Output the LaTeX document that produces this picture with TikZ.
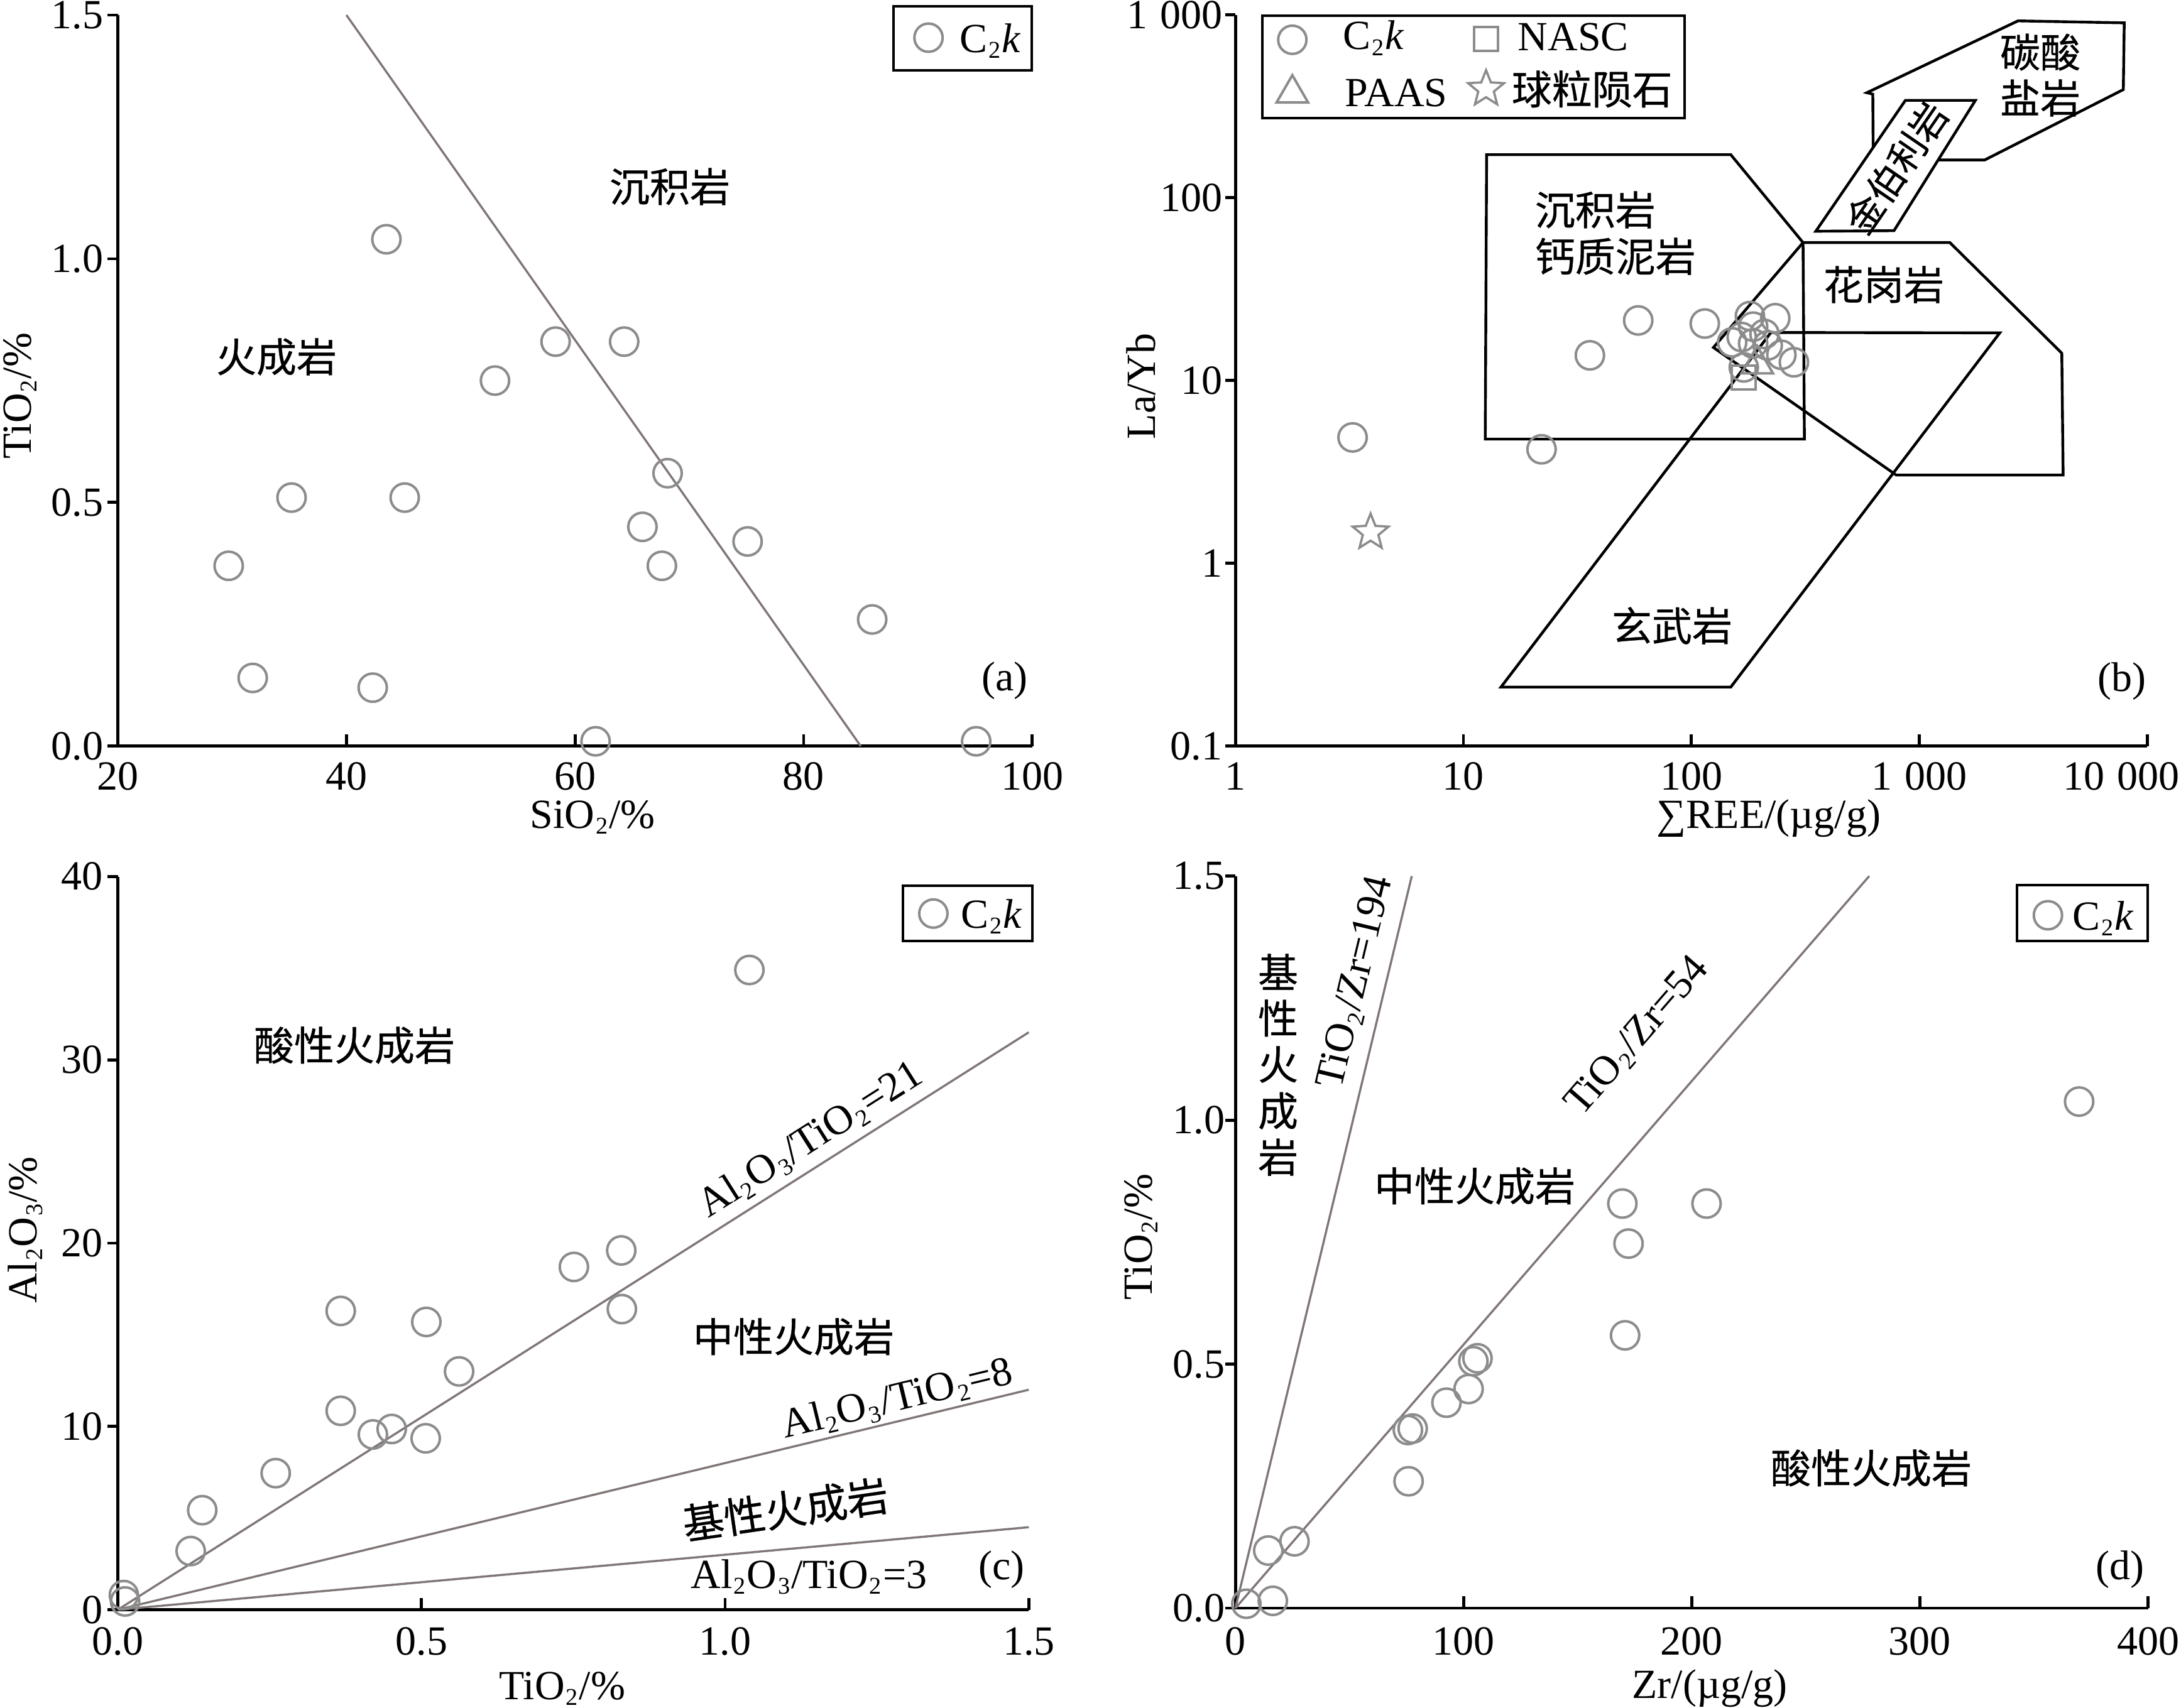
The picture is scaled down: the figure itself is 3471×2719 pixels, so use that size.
\documentclass[tikz,border=0pt]{standalone}
\usepackage{fontspec}
\usepackage{graphicx}
\setmainfont{Liberation Serif}
\newfontfamily\cjk[FakeBold=0.5]{Noto Sans CJK SC}
\usetikzlibrary{shapes.geometric}
\definecolor{markg}{RGB}{140,140,140}
\definecolor{lineg}{RGB}{128,118,118}
\def\thou{\kern0.3em}
\newcommand\sbs[1]{\kern0.03em\raisebox{-0.3ex}{\scalebox{0.58}{#1}}\kern0.03em}
\begin{document}
\begin{tikzpicture}[x=0.25pt,y=-0.25pt,
  every node/.style={inner sep=0pt,font=\fontsize{16.5}{19}\selectfont},
  axisline/.style={line width=1.2pt,black},
  ratioline/.style={line width=0.85pt,draw=lineg},
  fieldline/.style={line width=1.1pt,black,line join=miter},
  mkc/.style={circle,draw=markg,line width=1pt,minimum size=11.25pt},
  mks/.style={rectangle,draw=markg,line width=1pt,minimum size=9.5pt},
  mkt/.style={regular polygon,regular polygon sides=3,draw=markg,line width=1pt,minimum size=14.5pt},
  mkstar/.style={star,star points=5,star point ratio=2.3,draw=markg,line width=0.9pt,minimum size=15pt},
  legbox/.style={draw=black,line width=1pt},
  zh/.style={font=\cjk\fontsize{16}{18}\selectfont},
  tickx/.style={anchor=north},
  ticky/.style={anchor=east}]
\useasboundingbox (0,0) rectangle (3471,2719);

% ================= panel (a)
\draw[axisline] (187.5,23.9) -- (187.5,1187.8) -- (1642.5,1187.8);
\foreach \v [count=\i] in {20,40,60,80,100}{
  \pgfmathsetmacro\px{187.5+(\v-20)*18.19}
  \draw[axisline] (\px,1187.8) -- (\px,1169);
  \node[tickx] (ax\i) at (\px,1213) {\v};
}
\foreach \v/\t [count=\i] in {0/0.0,0.5/0.5,1/1.0,1.5/1.5}{
  \pgfmathsetmacro\py{1187.8-\v*775.9}
  \draw[axisline] (187.5,\py) -- (171,\py);
  \node[ticky] (ay\i) at (165,\py) {\t};
}
\begin{scope}[shift={(-176.3,1187.8)},xscale=18.19,yscale=-775.9]
  \draw[ratioline] (40,1.5) -- (85,0);
  \foreach \x/\y [count=\i] in {43.5/1.04,58.3/0.83,64.3/0.83,53.0/0.75,68.1/0.56,35.2/0.51,45.1/0.51,65.9/0.45,75.1/0.42,29.7/0.37,67.6/0.37,86.0/0.26,31.8/0.14,42.3/0.12,61.8/0.01,95.1/0.01}
    \node[mkc] (pa\i) at (\x,\y) {};
\end{scope}
\node[zh] (a-sed) at (1066,297) {沉积岩};
\node[zh] (a-ign) at (440,568) {火成岩};
\node (a-lab) at (1599,1084) {(a)};
\node (a-xt) at (943,1301) {SiO\sbs{2}/\%};
\node[rotate=90] (a-yt) at (32,630) {TiO\sbs{2}/\%};
\draw[legbox] (1421.7,10) rectangle (1642.3,111.7);
\node[mkc] (a-lm) at (1477.7,60) {};
\node[anchor=base west] (a-lt) at (1526.7,83.3) {C\sbs{2}\textit{k}};

% ================= panel (b)
\draw[axisline] (1966.1,23.9) -- (1966.1,1187.8) -- (3417.4,1187.8);
\foreach \k/\t [count=\i] in {0/1,1/10,2/100,3/{1\thou000}}{
  \pgfmathsetmacro\px{1966.1+\k*362.8}
  \draw[axisline] (\px,1187.8) -- (\px,1169);
  \node[tickx] (bx\i) at (\px,1213) {\t};
}
\draw[axisline] (3417.4,1187.8) -- (3417.4,1169);
\node[anchor=north east] (bx5) at (3469,1213) {10\thou000};
\foreach \k/\t [count=\i] in {-1/0.1,0/1,1/10,2/100,3/{1\thou000}}{
  \pgfmathsetmacro\py{896.8-\k*290.97}
  \draw[axisline] (1966.1,\py) -- (1949.6,\py);
  \node[ticky] (by\i) at (1946,\py) {\t};
}
\begin{scope}[shift={(1966.1,896.8)},xscale=362.8,yscale=-290.97]
  % sedimentary / calcareous mudstone
  \draw[fieldline] (1.102,2.236) -- (2.173,2.236) -- (2.490,1.755) -- (2.496,0.680) -- (1.096,0.680) -- cycle;
  % granite
  \draw[fieldline] (2.490,1.755) -- (3.134,1.755) -- (3.625,1.150) -- (3.631,0.483) -- (2.899,0.483) -- (2.097,1.181) -- cycle;
  % basalt
  \draw[fieldline] (2.349,1.263) -- (3.353,1.261) -- (2.173,-0.677) -- (1.165,-0.677) -- cycle;
  % carbonate
  \draw[fieldline] (2.798,2.207) -- (2.796,2.567) -- (2.770,2.575) -- (3.433,2.968) -- (3.899,2.957) -- (3.895,2.592) -- (3.287,2.207) -- cycle;
  % kimberlite
  \draw[fieldline,fill=white] (2.546,1.817) -- (2.939,2.533) -- (3.246,2.533) -- (2.889,1.820) -- cycle;
  \foreach \x/\y [count=\i] in {0.514/0.689,1.343/0.624,1.555/1.138,1.767/1.329,2.059/1.312,2.257/1.353,2.368/1.341,2.179/1.209,2.221/1.238,2.271/1.295,2.321/1.255,2.335/1.192,2.395/1.141,2.450/1.100,2.230/1.072,2.271/1.203}
    \node[mkc] (pb\i) at (\x,\y) {};
  \node[mks] (pb-nasc) at (2.230,1.018) {};
  \node[mkt] (pb-paas) at (2.289,1.089) {};
  \node[mkstar] (pb-chon) at (0.593,0.169) {};
\end{scope}
\node[zh,anchor=west] (b-sed) at (2442,334) {沉积岩};
\node[zh,anchor=west] (b-mud) at (2442,408) {钙质泥岩};
\node[zh] (b-gra) at (2998,453) {花岗岩};
\node[zh] (b-bas) at (2661,996) {玄武岩};
\node[zh] (b-car1) at (3247,83) {碳酸};
\node[zh] (b-car2) at (3247,156) {盐岩};
\node[zh,font=\cjk\fontsize{14.8}{16}\selectfont,rotate=55.6] (b-kim) at (3018,267) {金伯利岩};
\node (b-lab) at (3377,1085) {(b)};
\node (b-xt) at (2815,1303) {∑REE/(µg/g)};
\node[rotate=90] (b-yt) at (1816,615) {La/Yb};
\draw[legbox] (2009.3,25) rectangle (2680.8,188.3);
\node[mkc] (lb1) at (2056.7,63.3) {};
\node[anchor=base west] (lb1t) at (2136.7,79) {C\sbs{2}\textit{k}};
\node[mks] (lb2) at (2365,61.7) {};
\node[anchor=base west] (lb2t) at (2415,80) {NASC};
\node[mkt] (lb3) at (2056.7,148.7) {};
\node[anchor=base west] (lb3t) at (2140,169.3) {PAAS};
\node[mkstar] (lb4) at (2365,141.7) {};
\node[zh,anchor=base west] (lb4t) at (2405,166) {球粒陨石};

% ================= panel (c)
\draw[axisline] (187.5,1395.5) -- (187.5,2562.5) -- (1637.2,2562.5);
\foreach \v/\t [count=\i] in {0/0.0,0.5/0.5,1/1.0,1.5/1.5}{
  \pgfmathsetmacro\px{187.5+\v*966.5}
  \draw[axisline] (\px,2562.5) -- (\px,2543.7);
  \node[tickx] (cx\i) at (\px,2590) {\t};
}
\foreach \v [count=\i] in {0,10,20,30,40}{
  \pgfmathsetmacro\py{2562.5-\v*29.18}
  \draw[axisline] (187.5,\py) -- (171,\py);
  \node[ticky] (cy\i) at (164,\py) {\v};
}
\begin{scope}[shift={(187.5,2562.5)},xscale=966.5,yscale=-29.18]
  \draw[ratioline] (0,0) -- (1.5,31.5);
  \draw[ratioline] (0,0) -- (1.5,12);
  \draw[ratioline] (0,0) -- (1.5,4.5);
  \foreach \x/\y [count=\i] in {1.040/34.9,0.829/19.6,0.751/18.7,0.367/16.3,0.830/16.4,0.508/15.7,0.562/13.0,0.367/10.85,0.451/9.86,0.420/9.56,0.507/9.35,0.260/7.45,0.139/5.43,0.120/3.2,0.010/0.8,0.012/0.45}
    \node[mkc] (pc\i) at (\x,\y) {};
\end{scope}
\node[zh] (c-aci) at (564,1664) {酸性火成岩};
\node[zh] (c-int) at (1263,2128) {中性火成岩};
\node[zh,font=\cjk\fontsize{16.5}{18}\selectfont,rotate=8.3] (c-bas) at (1250,2403) {基性火成岩};
\node[rotate=32.4] (c-r21) at (1290,1815) {Al\sbs{2}O\sbs{3}/TiO\sbs{2}=21};
\node[rotate=13.6] (c-r8) at (1428,2228) {Al\sbs{2}O\sbs{3}/TiO\sbs{2}=8};
\node[anchor=base] (c-r3) at (1287.5,2528) {Al\sbs{2}O\sbs{3}/TiO\sbs{2}=3};
\node (c-lab) at (1594,2499) {(c)};
\node (c-xt) at (895,2688) {TiO\sbs{2}/\%};
\node[rotate=90] (c-yt) at (40,1958) {Al\sbs{2}O\sbs{3}/\%};
\draw[legbox] (1436.6,1410.4) rectangle (1642.6,1498.3);
\node[mkc] (c-lm) at (1485.4,1454.3) {};
\node[anchor=base west] (c-lt) at (1528.7,1477) {C\sbs{2}\textit{k}};

% ================= panel (d)
\draw[axisline] (1966.1,1394.6) -- (1966.1,2560) -- (3418.5,2560);
\foreach \v [count=\i] in {0,100,200,300,400}{
  \pgfmathsetmacro\px{1966.1+\v*3.631}
  \draw[axisline] (\px,2560) -- (\px,2541);
  \node[tickx] (dx\i) at (\px,2590) {\v};
}
\foreach \v/\t [count=\i] in {0/0.0,0.5/0.5,1/1.0,1.5/1.5}{
  \pgfmathsetmacro\py{2560-\v*776.9}
  \draw[axisline] (1966.1,\py) -- (1949.6,\py);
  \node[ticky] (dy\i) at (1950,\py) {\t};
}
\begin{scope}[shift={(1966.1,2560)},xscale=3.631,yscale=-776.9]
  \draw[ratioline] (0,0) -- (77.3,1.5);
  \draw[ratioline] (0,0) -- (277.8,1.5);
  \foreach \x/\y [count=\i] in {369.8/1.038,169.6/0.829,206.5/0.829,172.3/0.747,170.8/0.559,106.1/0.512,104.3/0.506,102.2/0.449,92.5/0.421,77.7/0.368,75.6/0.365,75.9/0.260,25.9/0.137,14.4/0.118,4.8/0.009,16.4/0.015}
    \node[mkc] (pd\i) at (\x,\y) {};
\end{scope}
\foreach \c [count=\i] in {基,性,火,成,岩}{
  \node[zh] (d-bas\i) at (2034,{1547+73.8*(\i-1)}) {\c};
}
\node[zh] (d-int) at (2347,1888) {中性火成岩};
\node[zh] (d-aci) at (2978,2337) {酸性火成岩};
\node[rotate=76.5] (d-r194) at (2158,1564) {TiO\sbs{2}/Zr=194};
\node[rotate=49.1] (d-r54) at (2606,1650) {TiO\sbs{2}/Zr=54};
\node (d-lab) at (3374,2499) {(d)};
\node (d-xt) at (2721,2688) {Zr/(µg/g)};
\node[rotate=90] (d-yt) at (1816,1969) {TiO\sbs{2}/\%};
\draw[legbox] (3209.8,1408.6) rectangle (3418.4,1498.3);
\node[mkc] (d-lm) at (3259.2,1457) {};
\node[anchor=base west] (d-lt) at (3297.6,1480) {C\sbs{2}\textit{k}};
\end{tikzpicture}
\end{document}
